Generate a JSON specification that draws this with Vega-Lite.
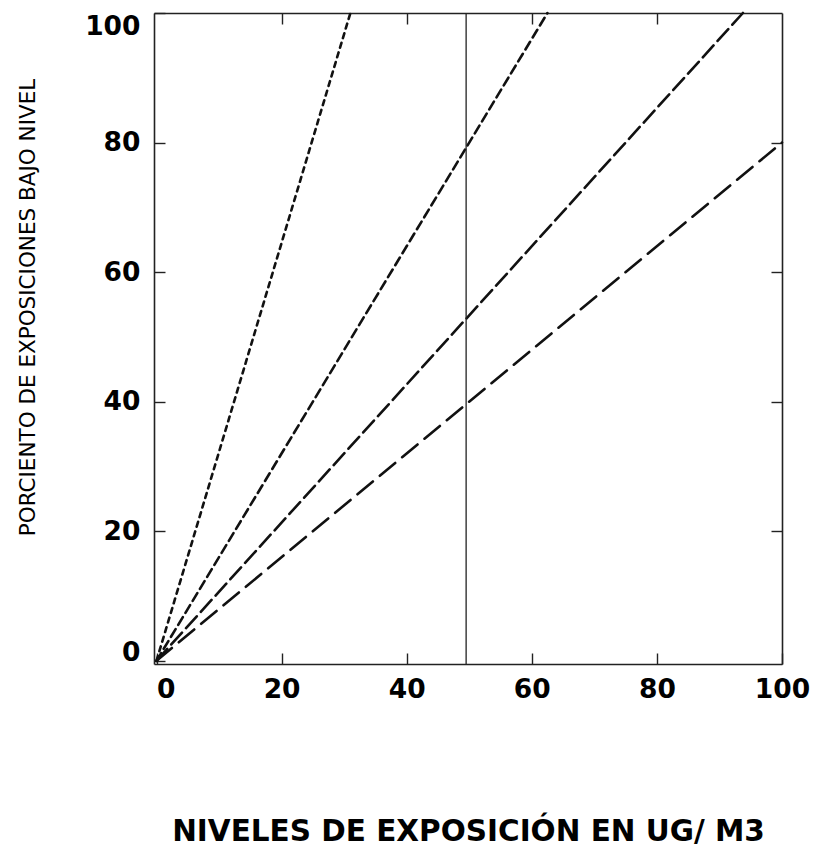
{
  "$schema": "https://vega.github.io/schema/vega-lite/v6.json",
  "width": 628,
  "height": 651,
  "autosize": "none",
  "padding": {"left": 154, "top": 13, "right": 32, "bottom": 184},
  "background": "white",
  "config": {
    "view": {"stroke": null},
    "axis": {
      "domainColor": "#222222",
      "domainWidth": 1.6,
      "tickColor": "#222222",
      "tickWidth": 1.4,
      "tickSize": -11,
      "grid": false,
      "labelFont": "DejaVu Sans",
      "labelFontWeight": "bold",
      "labelFontSize": 26.5,
      "labelColor": "black",
      "titleColor": "black"
    }
  },
  "datasets": {
    "lines": [
      {"series": "a", "x": 0, "y": 0},
      {"series": "a", "x": 31, "y": 100},
      {"series": "b", "x": 0, "y": 0},
      {"series": "b", "x": 62.5, "y": 100},
      {"series": "c", "x": 0, "y": 0},
      {"series": "c", "x": 93.75, "y": 100},
      {"series": "d", "x": 0, "y": 0},
      {"series": "d", "x": 100, "y": 80}
    ],
    "ref": [{"x": 49.5}]
  },
  "layer": [
    {
      "data": {"name": "lines"},
      "mark": {"type": "line", "strokeWidth": 2.6, "color": "#111111", "strokeCap": "round"},
      "encoding": {
        "x": {
          "field": "x", "type": "quantitative",
          "scale": {"domain": [-0.4, 100], "nice": false, "zero": false},
          "axis": {
            "orient": "bottom",
            "values": [0, 20, 40, 60, 80, 100],
            "labelPadding": 23,
            "labelAlign": {"condition": {"test": "datum.value === 0", "value": "left"}, "value": "center"},
            "title": "NIVELES DE EXPOSICIÓN EN UG/ M3",
            "titleFont": "DejaVu Sans",
            "titleFontWeight": "bold",
            "titleFontSize": 29.5,
            "titleX": 314,
            "titleY": 176,
            "titleAlign": "center",
            "titleBaseline": "alphabetic"
          }
        },
        "y": {
          "field": "y", "type": "quantitative",
          "scale": {"domain": [-0.5, 100], "nice": false, "zero": false},
          "axis": {
            "orient": "left",
            "values": [0, 20, 40, 60, 80, 100],
            "labelPadding": 25,
            "labelBaseline": {"condition": [{"test": "datum.value === 100", "value": "top"}, {"test": "datum.value === 0", "value": "alphabetic"}], "value": "middle"},
            "title": "PORCIENTO DE EXPOSICIONES BAJO NIVEL",
            "titleFont": "DejaVu Sans",
            "titleFontWeight": "normal",
            "titleFontSize": 21.5,
            "titleAngle": -90,
            "titleX": -126,
            "titleY": 294,
            "titleAlign": "center",
            "titleBaseline": "middle"
          }
        },
        "strokeDash": {
          "field": "series", "type": "nominal",
          "scale": {"domain": ["a", "b", "c", "d"], "range": [[5, 5], [9, 5], [16, 6], [20, 9]]},
          "legend": null
        }
      }
    },
    {
      "data": {"name": "ref"},
      "mark": {"type": "rule", "color": "#222222", "strokeWidth": 1.3},
      "encoding": {
        "x": {"field": "x", "type": "quantitative", "axis": null}
      }
    },
    {
      "data": {"name": "lines"},
      "mark": {"type": "point", "opacity": 0},
      "encoding": {
        "x": {
          "field": "x", "type": "quantitative",
          "axis": {"orient": "top", "values": [20, 40, 60, 80], "labels": false, "title": null}
        },
        "y": {
          "field": "y", "type": "quantitative",
          "axis": {"orient": "right", "values": [20, 40, 60, 80], "labels": false, "title": null}
        }
      }
    }
  ],
  "resolve": {"axis": {"x": "independent", "y": "independent"}}
}
